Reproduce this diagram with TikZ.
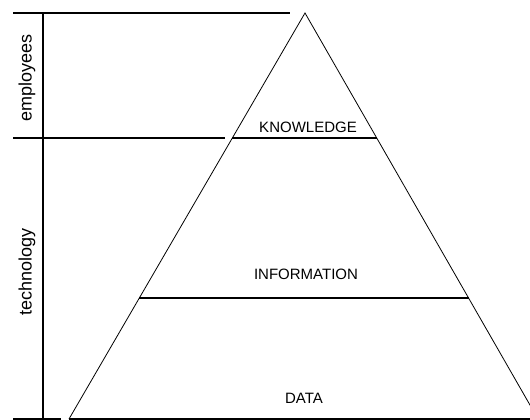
\documentclass[tikz,border=0pt]{standalone}
\usepackage{fontspec}
\setmainfont{Liberation Sans}
\usetikzlibrary{calc}

\tikzset{
	bar/.style={line width=1.6pt},
	level/.style={font=\fontsize{15}{18}\selectfont},
	side/.style={rotate=90,font=\fontsize{18}{21}\selectfont}
}

\begin{document}
\begin{tikzpicture}[x=1pt,y=-1pt]
	\useasboundingbox (0,0) rectangle (530,420);
	% pyramid
	\coordinate (apex) at (305,13);
	\coordinate (left) at (69,419);
	\coordinate (right) at (538,419);
	\draw[line width=0.8pt] (left) -- (apex) -- (right);
	\draw[bar] (left) -- (right);
	\foreach \t/\n in {0.308/k, 0.702/i}{
		\coordinate (\n l) at ($(apex)!\t!(left)$);
		\coordinate (\n r) at ($(apex)!\t!(right)$);
		\draw[bar] (\n l) -- (\n r);
		}
	\node[level] (knowledge) at (308,127) {KNOWLEDGE};
	\node[level] (information) at (306,274) {INFORMATION};
	\node[level] (data) at (304,398) {DATA};
	% scale on the left
	\coordinate (top) at (43,13);
	\coordinate (mid) at (43,138);
	\coordinate (bot) at (43,419);
	\draw[bar] (top) -- (bot);
	\draw[bar] (13,13) -- (290,13);
	\draw[bar] (13,138) -- (225,138);
	\draw[bar] (13,419) -- (61,419);
	\node[side] (employees) at (27,78) {employees};
	\node[side] (technology) at (27,272) {technology};
\end{tikzpicture}
\end{document}
